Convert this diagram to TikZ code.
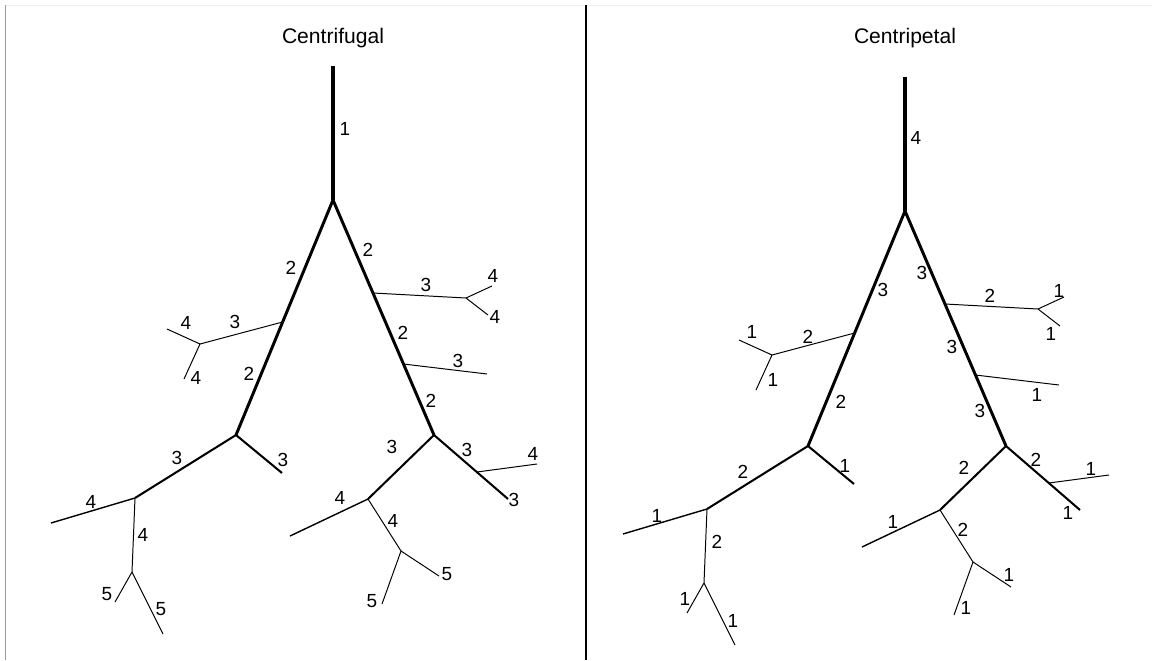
\documentclass[tikz,border=0pt]{standalone}
\usepackage{fontspec}
\setmainfont{Liberation Sans}
\definecolor{bordergris}{HTML}{9A9A9A}
\definecolor{bordeclaro}{HTML}{EFEFEF}
\tikzset{
  trunk/.style={line width=2.9pt},
  mainbranch/.style={line width=2.1pt},
  subbranch/.style={line width=1.45pt},
  midtwig/.style={line width=1pt},
  twig/.style={line width=0.7pt},
  num/.style={font=\fontsize{13.5}{15}\selectfont,inner sep=0pt},
  treetitle/.style={font=\fontsize{15}{17}\selectfont,inner sep=0pt}
}
% same network for both panels, coordinates in pixels
\newcommand{\streamnet}{%
  \coordinate (top) at (333,66);
  \coordinate (fork) at (333,200);
  \coordinate (lft) at (236,435);
  \coordinate (rgt) at (434,435);
  \coordinate (la) at (282.6,322);
  \coordinate (laf) at (200,344);
  \coordinate (laa) at (167,329);
  \coordinate (lab) at (184,379);
  \coordinate (ra) at (373,293);
  \coordinate (raf) at (466,298);
  \coordinate (raa) at (492,286);
  \coordinate (rab) at (488,315);
  \coordinate (rb) at (403.5,364);
  \coordinate (rbe) at (487,374);
  \coordinate (ll) at (135,498);
  \coordinate (lstub) at (282,473);
  \coordinate (llx) at (51,523);
  \coordinate (ll2) at (132,572);
  \coordinate (ll2a) at (115,602);
  \coordinate (ll2b) at (163,634);
  \coordinate (rl) at (368,499);
  \coordinate (rlx) at (290,536);
  \coordinate (rl2) at (401,551);
  \coordinate (rl2a) at (439,576);
  \coordinate (rl2b) at (382,604);
  \coordinate (rr) at (508,499);
  \coordinate (rrs) at (477,472);
  \coordinate (rrx) at (537,464);
  \draw[trunk] (top) -- (fork);
  \draw[mainbranch] (fork) -- (lft);
  \draw[mainbranch] (fork) -- (rgt);
  \draw[twig] (la) -- (laf) (laf) -- (laa) (laf) -- (lab);
  \draw[twig] (ra) -- (raf) (raf) -- (raa) (raf) -- (rab);
  \draw[twig] (rb) -- (rbe);
  \draw[subbranch] (lft) -- (ll);
  \draw[subbranch] (lft) -- (lstub);
  \draw[subbranch] (rgt) -- (rl);
  \draw[subbranch] (rgt) -- (rr);
  \draw[midtwig] (ll) -- (llx);
  \draw[midtwig] (rl) -- (rlx);
  \draw[twig] (ll) -- (ll2) (ll2) -- (ll2a) (ll2) -- (ll2b);
  \draw[twig] (rl) -- (rl2) (rl2) -- (rl2a) (rl2) -- (rl2b);
  \draw[twig] (rrs) -- (rrx);
}

\begin{document}
\begin{tikzpicture}[x=0.025cm,y=-0.025cm]
\useasboundingbox (0,0) rectangle (1152,660);
\coordinate (frametl) at (5,5);
\coordinate (frametr) at (1152,5);
\coordinate (framebl) at (5,660);
\coordinate (septop) at (586,5);
\coordinate (sepbot) at (586,660);
\draw[bordeclaro,line width=0.7pt] (frametl) -- (frametr);
\draw[bordergris,line width=0.7pt] (frametl) -- (framebl);
\draw[line width=1pt] (septop) -- (sepbot);

% centrifugal
\begin{scope}[name prefix=cf-]
\streamnet
\end{scope}
\node[treetitle] (cftitle) at (333,38) {Centrifugal};
\node[num] (cf1) at (345,129) {1};
\node[num] (cf2) at (291,268) {2};
\node[num] (cf3) at (235,322) {3};
\node[num] (cf4) at (186,323) {4};
\node[num] (cf5) at (196,378) {4};
\node[num] (cf6) at (249,374) {2};
\node[num] (cf7) at (368,250) {2};
\node[num] (cf8) at (426,285) {3};
\node[num] (cf9) at (493,276) {4};
\node[num] (cf10) at (495,317) {4};
\node[num] (cf11) at (403,333) {2};
\node[num] (cf12) at (458,361) {3};
\node[num] (cf13) at (431,401) {2};
\node[num] (cf14) at (177,458) {3};
\node[num] (cf15) at (283,460) {3};
\node[num] (cf16) at (91,502) {4};
\node[num] (cf17) at (143,535) {4};
\node[num] (cf18) at (107,594) {5};
\node[num] (cf19) at (161,609) {5};
\node[num] (cf20) at (392,447) {3};
\node[num] (cf21) at (467,450) {3};
\node[num] (cf22) at (533,454) {4};
\node[num] (cf23) at (514,500) {3};
\node[num] (cf24) at (340,498) {4};
\node[num] (cf25) at (393,521) {4};
\node[num] (cf26) at (447,574) {5};
\node[num] (cf27) at (372,601) {5};

% centripetal
\begin{scope}[name prefix=cp-,shift={(572,11)}]
\streamnet
\end{scope}
\node[treetitle] (cptitle) at (905,38) {Centripetal};
\node[num] (cp1) at (916,138) {4};
\node[num] (cp2) at (883,290) {3};
\node[num] (cp3) at (808,337) {2};
\node[num] (cp4) at (752,332) {1};
\node[num] (cp5) at (773,380) {1};
\node[num] (cp6) at (841,402) {2};
\node[num] (cp7) at (922,273) {3};
\node[num] (cp8) at (990,296) {2};
\node[num] (cp9) at (1059,291) {1};
\node[num] (cp10) at (1051,334) {1};
\node[num] (cp11) at (952,347) {3};
\node[num] (cp12) at (1037,395) {1};
\node[num] (cp13) at (980,411) {3};
\node[num] (cp14) at (743,472) {2};
\node[num] (cp15) at (845,466) {1};
\node[num] (cp16) at (657,516) {1};
\node[num] (cp17) at (717,542) {2};
\node[num] (cp18) at (685,599) {1};
\node[num] (cp19) at (733,621) {1};
\node[num] (cp20) at (964,468) {2};
\node[num] (cp21) at (1036,460) {2};
\node[num] (cp22) at (1091,469) {1};
\node[num] (cp23) at (1068,513) {1};
\node[num] (cp24) at (893,522) {1};
\node[num] (cp25) at (963,530) {2};
\node[num] (cp26) at (1009,575) {1};
\node[num] (cp27) at (966,608) {1};
\end{tikzpicture}
\end{document}
